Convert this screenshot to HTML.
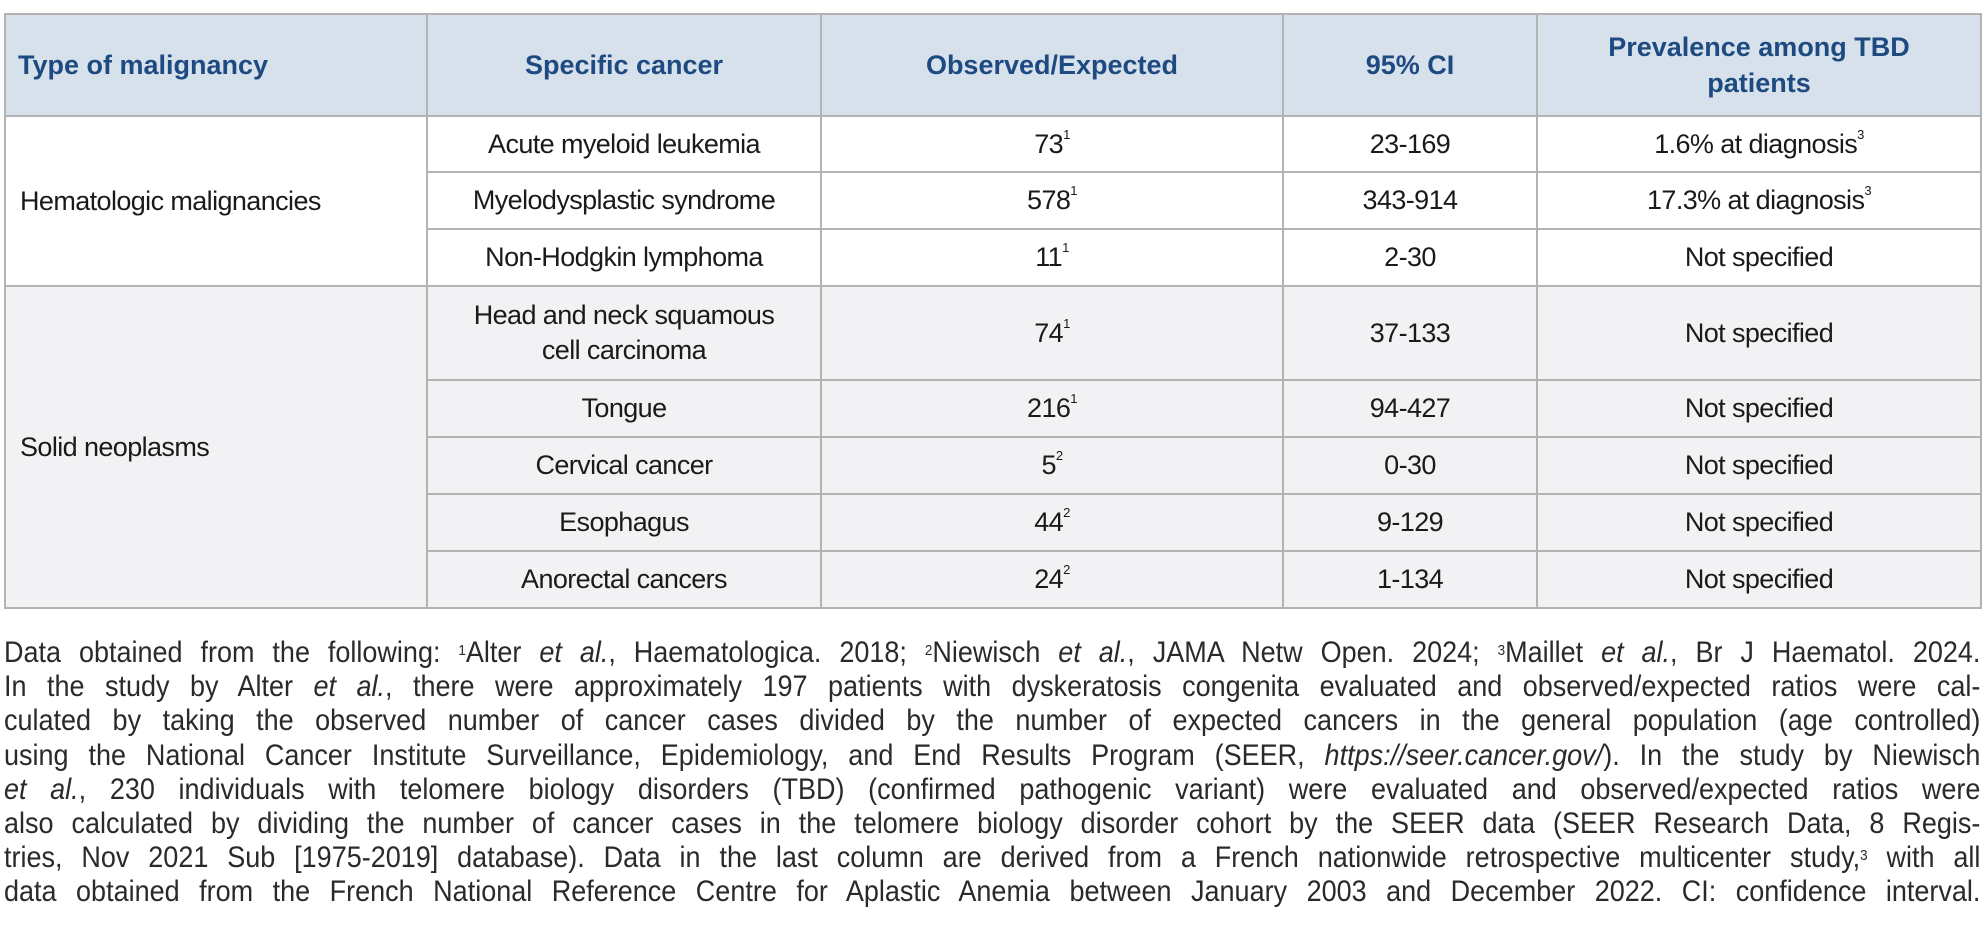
<!DOCTYPE html>
<html><head><meta charset="utf-8"><style>
html,body{margin:0;padding:0;background:#fff;width:1986px;height:942px;overflow:hidden}
table{position:absolute;left:4px;top:13px;border-collapse:collapse;table-layout:fixed;width:1976px}
td,th{border:2px solid #b3b3b3;padding:0;text-align:center;font-family:"Liberation Sans",sans-serif;font-size:27px;color:#1a1a1a;letter-spacing:-0.6px}
th{background:#d7e1eb;color:#1e4a82;font-weight:bold;font-size:27px;letter-spacing:0;line-height:36px}
tr.s td{background:#f2f2f4}
td.l{text-align:left;padding-left:14px}
sup{font-size:13px;vertical-align:top;position:relative;top:-2px}
#note{position:absolute;left:4px;top:636px;width:2196px;transform:scaleX(0.9);transform-origin:0 0;font-family:"Liberation Sans",sans-serif;font-size:30px;color:#2a2a2a;line-height:34.2px}
#note div{text-align:justify;text-align-last:justify;white-space:nowrap}
#note sup{font-size:15px}
</style></head><body>
<table>
<colgroup><col style="width:422px"><col style="width:394px"><col style="width:462px"><col style="width:254px"><col style="width:444px"></colgroup>
<tr style="height:102px"><th style="text-align:left;padding-left:12px">Type of malignancy</th><th>Specific cancer</th><th>Observed/Expected</th><th>95% CI</th><th>Prevalence among TBD<br>patients</th></tr>
<tr style="height:56px"><td class="l" rowspan="3">Hematologic malignancies</td><td>Acute myeloid leukemia</td><td>73<sup>1</sup></td><td>23-169</td><td>1.6% at diagnosis<sup>3</sup></td></tr>
<tr style="height:57px"><td>Myelodysplastic syndrome</td><td>578<sup>1</sup></td><td>343-914</td><td>17.3% at diagnosis<sup>3</sup></td></tr>
<tr style="height:57px"><td>Non-Hodgkin lymphoma</td><td>11<sup>1</sup></td><td>2-30</td><td>Not specified</td></tr>
<tr class="s" style="height:94px"><td class="l" rowspan="6">Solid neoplasms</td><td style="line-height:35px">Head and neck squamous<br>cell carcinoma</td><td>74<sup>1</sup></td><td>37-133</td><td>Not specified</td></tr>
<tr class="s" style="height:57px"><td>Tongue</td><td>216<sup>1</sup></td><td>94-427</td><td>Not specified</td></tr>
<tr class="s" style="height:57px"><td>Cervical cancer</td><td>5<sup>2</sup></td><td>0-30</td><td>Not specified</td></tr>
<tr class="s" style="height:57px"><td>Esophagus</td><td>44<sup>2</sup></td><td>9-129</td><td>Not specified</td></tr>
<tr class="s" style="height:57px"><td>Anorectal cancers</td><td>24<sup>2</sup></td><td>1-134</td><td>Not specified</td></tr>
</table>
<div id="note">
<div>Data obtained from the following: <sup>1</sup>Alter <i>et al.</i>, Haematologica. 2018; <sup>2</sup>Niewisch <i>et al.</i>, JAMA Netw Open. 2024; <sup>3</sup>Maillet <i>et al.</i>, Br J Haematol. 2024.</div>
<div>In the study by Alter <i>et al.</i>, there were approximately 197 patients with dyskeratosis congenita evaluated and observed/expected ratios were cal-</div>
<div>culated by taking the observed number of cancer cases divided by the number of expected cancers in the general population (age controlled)</div>
<div>using the National Cancer Institute Surveillance, Epidemiology, and End Results Program (SEER, <i>https://seer.cancer.gov/</i>). In the study by Niewisch</div>
<div><i>et al.</i>, 230 individuals with telomere biology disorders (TBD) (confirmed pathogenic variant) were evaluated and observed/expected ratios were</div>
<div>also calculated by dividing the number of cancer cases in the telomere biology disorder cohort by the SEER data (SEER Research Data, 8 Regis-</div>
<div>tries, Nov 2021 Sub [1975-2019] database). Data in the last column are derived from a French nationwide retrospective multicenter study,<sup>3</sup> with all</div>
<div>data obtained from the French National Reference Centre for Aplastic Anemia between January 2003 and December 2022. CI: confidence interval.</div>
</div>
</body></html>
